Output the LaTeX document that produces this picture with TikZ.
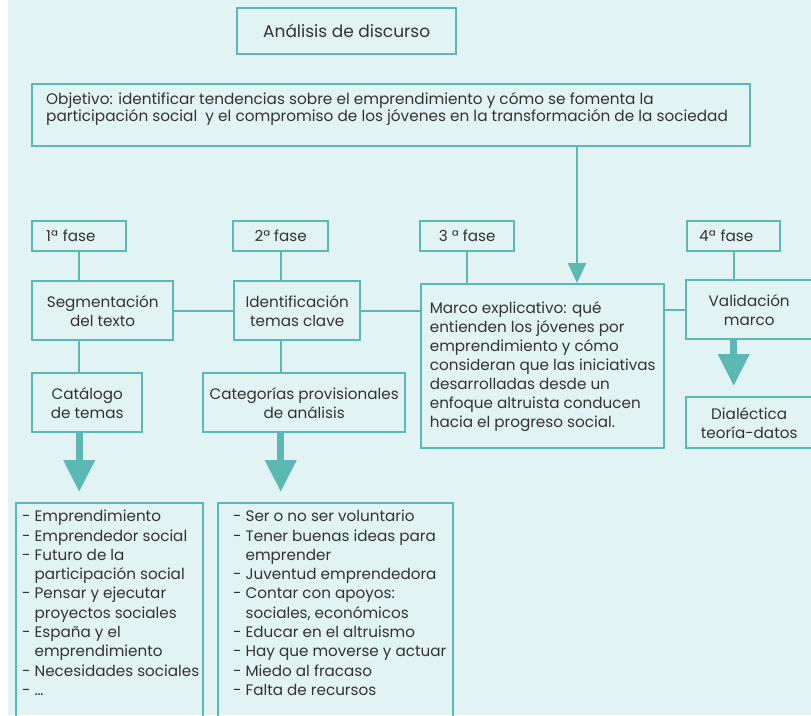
\documentclass[tikz,border=0pt]{standalone}
\usepackage{fontspec}
\setmainfont{Poppins}
\usetikzlibrary{positioning,calc,arrows.meta}
\tikzset{>=stealth}
\definecolor{mapline}{HTML}{5CB8B2}
\definecolor{mapbg}{HTML}{E2F3F3}
\definecolor{maptext}{HTML}{333333}
\newcommand{\cont}{\phantom{- }}

\begin{document}
\begin{tikzpicture}[x=1pt,y=-1pt,
  box/.style={draw=mapline,line width=2.4pt,anchor=north west,inner sep=0pt,
    align=center,text=maptext,font=\fontsize{15.2}{19}\selectfont},
  link/.style={draw=mapline,line width=2.4pt},
  thin arrow/.style={link,-{Triangle[length=20pt 0 0,width=18pt 0 0]}},
  big arrow/.style={draw=mapline,line width=7pt,
    -{Triangle[length=32pt 0 0,width=30pt 0 0]},shorten >=10pt}]
% Page and background
\useasboundingbox (0,0) rectangle (811,715);
\fill[mapbg] (8,0) rectangle (811,715);

% Title and objective
\node[box,minimum width=219,minimum height=46,font=\fontsize{17}{19}\selectfont]
  (title) at (236,7) {Análisis de discurso};
\node[box,align=left,inner xsep=14] (obj) at (31,83)
  {\parbox[c][62pt][c]{690pt}{\fontsize{15.3}{14.5}\selectfont
   Objetivo: identificar tendencias sobre el emprendimiento y cómo se fomenta la\\
   participación social\ \ y el compromiso de los jóvenes en la transformación de la sociedad
   \par\vspace{12pt}}};

% Phases
\node[box,minimum width=94,minimum height=30,align=left,
  text width=66,inner xsep=14] (f1) at (31,220) {1ª fase};
\node[box,minimum width=95,minimum height=30] (f2) at (232,220) {2ª fase};
\node[box,minimum width=94,minimum height=30] (f3) at (419,220) {3 ª fase};
\node[box,minimum width=93,minimum height=30,align=left,
  text width=69,inner xsep=12] (f4) at (686,220) {4ª fase};

% Steps of each phase
\node[box,minimum width=141,minimum height=59] (seg) at (31,280)
  {Segmentación\\del texto};
\node[box,minimum width=126,minimum height=59] (ide) at (233,280)
  {Identificación\\temas clave};
\node[box,minimum width=243,minimum height=164,align=left] (marco) at (420,283)
  {Marco explicativo: qué\\entienden los jóvenes por\\emprendimiento y cómo\\
   consideran que las iniciativas\\desarrolladas desde un\\
   enfoque altruista conducen\\hacia el progreso social.};
\node[box,minimum width=126,minimum height=59] (val) at (685,279)
  {Validación\\marco};
\node[box,minimum width=110,minimum height=59] (cat) at (31,372)
  {Catálogo\\de temas};
\node[box,minimum width=202,minimum height=59] (cate) at (202,372)
  {Categorías provisionales\\de análisis};
\node[box,minimum width=126,minimum height=51] (dia) at (685,396)
  {Dialéctica\\teoría-datos};

% Lists of themes (cut off at the bottom)
\node[box,align=left,inner xsep=6,inner ysep=7] (list1) at (15,502)
  {\parbox[t][230pt][t]{175pt}{\fontsize{15.2}{19.3}\selectfont
   - Emprendimiento\\- Emprendedor social\\- Futuro de la\\
   \cont participación social\\- Pensar y ejecutar\\\cont proyectos sociales\\
   - España y el\\\cont emprendimiento\\\mbox{- Necesidades sociales}\\- \dots}};
\node[box,align=left,inner xsep=15,inner ysep=7] (list2) at (217,502)
  {\parbox[t][230pt][t]{205pt}{\fontsize{15.2}{19.3}\selectfont
   - Ser o no ser voluntario\\- Tener buenas ideas para\\\cont emprender\\
   - Juventud emprendedora\\- Contar con apoyos:\\\cont sociales, económicos\\
   - Educar en el altruismo\\\mbox{- Hay que moverse y actuar}\\- Miedo al fracaso\\
   - Falta de recursos}};

% Connectors
\draw[link] (f1) -- (f1 |- seg.north);
\draw[link] (f2) -- (f2 |- ide.north);
\draw[link] (f3) -- (f3 |- marco.north);
\draw[link] (f4) -- (f4 |- val.north);
\draw[link] (seg.east) -- (ide.west);
\draw[link] (ide.east) -- (ide.east -| marco.west);
\draw[link] (val.west) -- (val.west -| marco.east);
\draw[link] (f1 |- seg.south) -- (f1 |- cat.north);
\draw[link] (f2 |- ide.south) -- (f2 |- cate.north);

% Arrows
\path (obj.south west) ++(546,0) coordinate (drop);
\draw[thin arrow] (drop) -- (drop |- marco.north);
\draw[big arrow] (f1 |- cat.south) -- (f1 |- list1.north);
\draw[big arrow] (f2 |- cate.south) -- (f2 |- list2.north);
\draw[big arrow] (f4 |- val.south) -- (f4 |- dia.north);

\end{tikzpicture}
\end{document}
